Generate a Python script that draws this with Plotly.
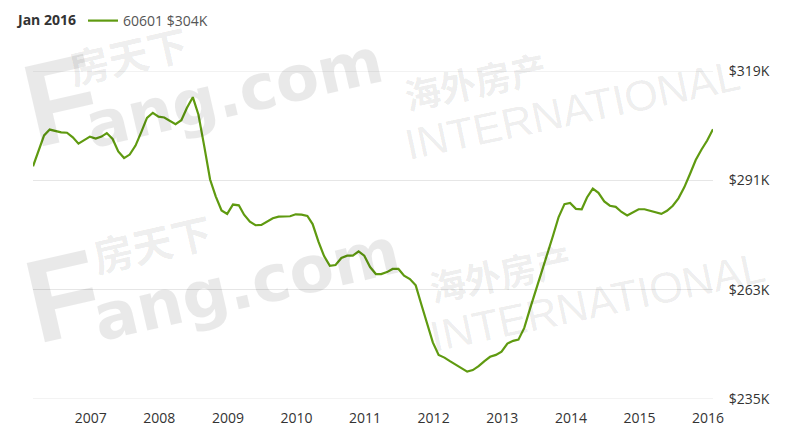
import pandas as pd
import plotly.graph_objects as go

# ---- data ----
start_month = "2006-02-01"
values_k = [
    294.6, 298.6, 302.5, 304.0, 303.6, 303.3, 303.2, 302.0, 300.4, 301.3,
    302.2, 301.7, 302.2, 303.1, 301.6, 298.4, 296.7, 297.6, 299.9, 303.4,
    307.0, 308.3, 307.3, 307.1, 306.2, 305.4, 306.4, 309.6, 312.3, 307.8,
    299.7, 291.2, 286.9, 283.3, 282.4, 284.8, 284.6, 282.2, 280.4, 279.5,
    279.6, 280.5, 281.3, 281.7, 281.8, 281.8, 282.3, 282.2, 281.9, 279.8,
    275.3, 271.6, 269.1, 269.3, 271.1, 271.7, 271.7, 272.8, 271.7, 268.8,
    267.0, 267.0, 267.5, 268.3, 268.3, 266.6, 265.7, 264.1, 259.2, 254.3,
    249.5, 246.3, 245.6, 244.7, 243.8, 242.8, 242.0, 242.4, 243.4, 244.7,
    245.8, 246.3, 247.1, 249.2, 249.9, 250.2, 253.2, 258.0, 262.6, 267.2,
    272.0, 276.8, 281.6, 284.9, 285.2, 283.7, 283.6, 286.6, 288.9, 287.8,
    285.6, 284.5, 284.2, 282.9, 282.0, 282.9, 283.6, 283.6, 283.2, 282.8,
    282.4, 283.2, 284.5, 286.4, 289.2, 292.7, 296.2, 298.9, 301.2, 304.1,
]
dates = pd.date_range(start_month, periods=len(values_k), freq="MS")

year_ticks = [f"{y}-01-01" for y in range(2007, 2017)]
year_labels = [str(y) for y in range(2007, 2017)]
y_ticks = [235, 263, 291, 319]
y_labels = ["$235K", "$263K", "$291K", "$319K"]

series_name = "60601 $304K"
header_text = "Jan 2016"

GREEN = "#5f9a10"

fig = go.Figure()
fig.add_trace(go.Scatter(
    x=dates, y=values_k, mode="lines", name=series_name,
    line=dict(color=GREEN, width=2.2), hoverinfo="x+y",
))

# plot area in page pixels (page body has an 8px margin)
OFF = 8
L, R, T, B = 33, 713, 71, 399
def px(x):
    return (x - L) / (R - L)
def py(y):
    return (B - y) / (B - T)

WM = "rgba(0,0,0,0.085)"
ann = []
def wm(text, x, y, size, family, angle=-13, bold=True):
    ann.append(dict(
        text=text, x=px(x), y=py(y), xref="paper", yref="paper",
        xanchor="center", yanchor="middle", textangle=angle, showarrow=False,
        font=dict(family=family, size=size, color=WM,
                  weight="bold" if bold else "normal"),
    ))

# watermark: "房天下 Fang.com"
wm("F", 61, 100, 118, "Liberation Sans")
wm("ang.com", 234, 94, 63, "DejaVu Sans")
wm("房天下", 128, 55, 40, "Noto Sans CJK SC")
wm("F", 63, 296, 118, "Liberation Sans")
wm("ang.com", 246, 284, 65, "DejaVu Sans")
wm("房天下", 152, 243, 40, "Noto Sans CJK SC")
# watermark: "海外房产 INTERNATIONAL"
for dx, dy in [(0, 0), (25, 192)]:
    wm("海外房产", 475 + dx, 80 + dy, 36, "Noto Sans CJK SC", angle=-12)
    wm("INTERNATIONAL", 572 + dx, 110 + dy, 43, "Liberation Sans", angle=-12, bold=False)

ann.append(dict(
    text=f"<b>{header_text}</b>", x=px(14), y=py(20), xref="paper", yref="paper",
    xanchor="left", yanchor="middle", showarrow=False,
    font=dict(family="Open Sans", size=14, color="#333333"),
))

fig.update_layout(
    width=800, height=440,
    margin=dict(l=L - OFF, r=800 - (R - OFF), t=T - OFF, b=440 - (B - OFF),
                autoexpand=False),
    paper_bgcolor="white", plot_bgcolor="white",
    font=dict(family="Open Sans", size=14, color="#333333"),
    showlegend=True,
    legend=dict(
        x=px(83), y=py(5), xanchor="left", yanchor="top",
        orientation="h", font=dict(family="Open Sans", size=14, color="#555555"),
        bgcolor="rgba(0,0,0,0)", itemwidth=30,
    ),
    annotations=ann,
    hovermode="x",
)
fig.update_xaxes(
    range=[dates[0], dates[-1]], tickvals=year_ticks, ticktext=year_labels,
    showgrid=False, zeroline=False, showline=False,
    ticks="outside", ticklen=6, tickcolor="rgba(0,0,0,0)",
    ticklabelshift=-5, tickfont=dict(size=14, color="#333333"),
)
fig.update_yaxes(
    range=[235, 319], tickvals=y_ticks, ticktext=y_labels, side="right",
    showgrid=True, gridcolor="#e6e6e6", gridwidth=1, zeroline=False, showline=False,
    ticks="outside", ticklen=12, tickcolor="rgba(0,0,0,0)",
    tickfont=dict(size=14, color="#333333"),
)
# grid lines at the range edges (top 319K and bottom 235K) as in the reference
fig.add_hline(y=319, line=dict(color="#e6e6e6", width=1), layer="below")
fig.add_hline(y=235, line=dict(color="#e6e6e6", width=1), layer="below")

fig.write_html("out.html")
